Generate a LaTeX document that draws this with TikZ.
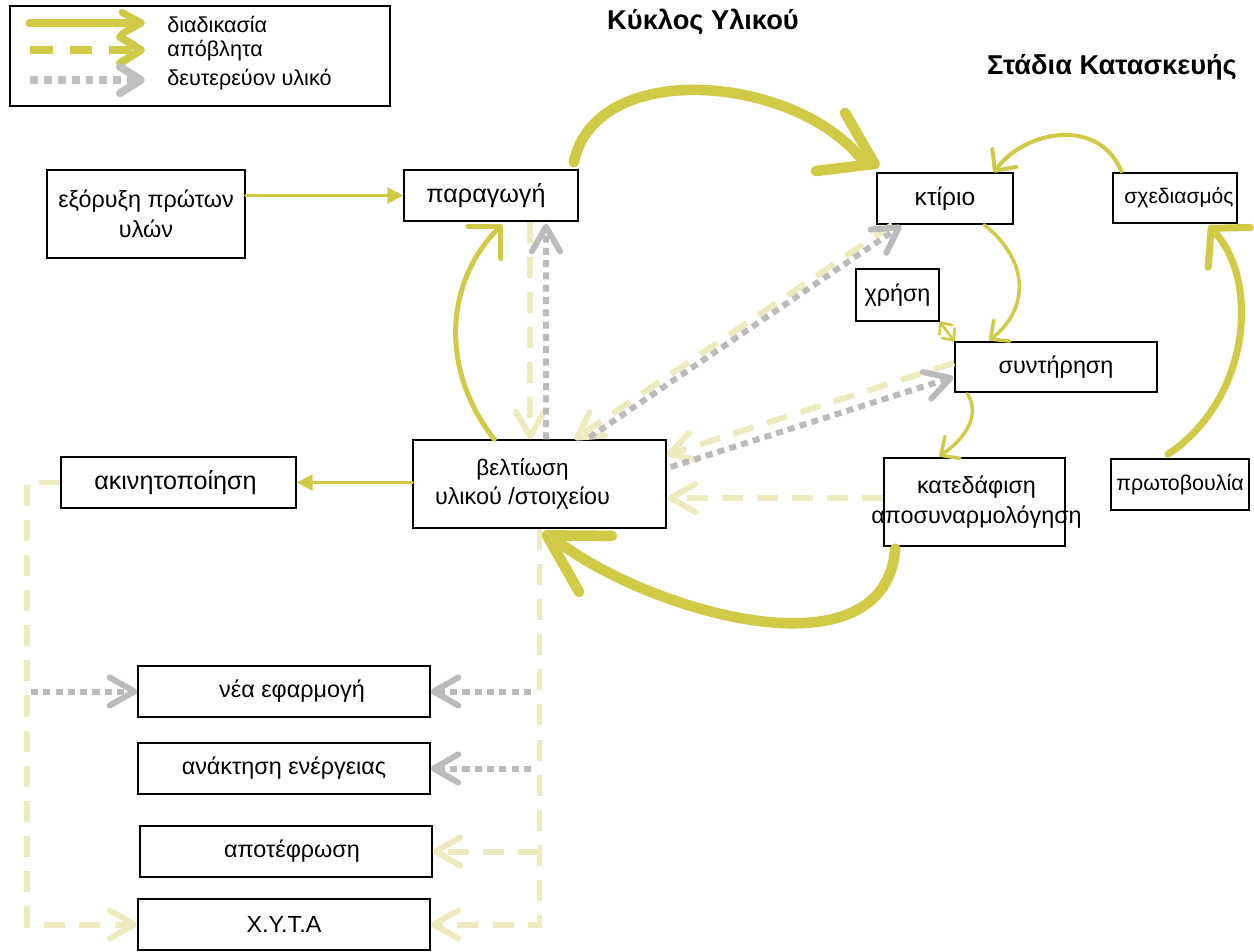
\documentclass[tikz,border=0pt]{standalone}
\usepackage{fontspec}
\setmainfont{Liberation Sans}
\usetikzlibrary{arrows.meta,calc}
\definecolor{procC}{RGB}{208,202,70}
\definecolor{wasteC}{RGB}{237,234,190}
\definecolor{grayC}{RGB}{187,187,187}
\definecolor{legGray}{RGB}{192,192,192}
\newcommand\gbox[7][0]{%
  \node[box, minimum width={(#5-#3)*0.02cm}, minimum height={(#6-#4)*0.02cm}] (#2) at ({(#3+#5)/2},{(#4+#6)/2}) {};
  \node[lbl] (#2-t) at ($(#2.center)+(#1,0)$) {#7};}
\newcommand\fs[1]{\fontsize{#1}{17}\selectfont}
\begin{document}
\begin{tikzpicture}[x=0.02cm,y=-0.02cm,
  box/.style={draw=black, line width=0.8pt, inner sep=0pt},
  lbl/.style={inner sep=0pt, align=center, font=\fontsize{13.3}{17}\selectfont},
  proc/.style={draw=procC, line cap=round},
  waste/.style={draw=wasteC, line width=3.4pt, dash pattern=on 12pt off 8pt},
  sec/.style={draw=grayC, line width=3.4pt, dash pattern=on 4pt off 3pt},
  wtip/.style={arrows={-Straight Barb[length=14pt,width=16pt,round]}},
  stip/.style={arrows={-Straight Barb[length=8pt,width=15pt,round]}},
  title/.style={inner sep=0pt, font=\bfseries\fontsize{15.5}{18}\selectfont},
  legtxt/.style={inner sep=0pt, anchor=west, font=\fontsize{12.3}{15}\selectfont}
]
\useasboundingbox (0,0) rectangle (1254,951);

% ---------- boxes ----------
\gbox{leg}{10}{6}{390}{106}{}
\gbox{exor}{47}{170}{245}{258}{εξόρυξη πρώτων\\υλών}
\gbox[-5]{parag}{404}{170}{578}{221}{\fs{14.3}παραγωγή}
\gbox{ktir}{877}{173}{1013}{224}{\fs{14}κτίριο}
\gbox[4]{sxed}{1113}{173}{1237}{223}{\fs{12}σχεδιασμός}
\gbox{xrisi}{856}{269}{939}{321}{χρήση}
\gbox{synt}{955}{342}{1157}{392}{συντήρηση}
\gbox[2]{kat}{884}{458}{1065}{546}{κατεδάφιση\\αποσυναρμολόγηση}
\gbox{prot}{1111}{459}{1249}{510}{\fs{12.2}πρωτοβουλία}
\gbox[-17]{belt}{413}{440}{666}{528}{\fontsize{12.8}{17}\selectfont βελτίωση\\υλικού /στοιχείου}
\gbox[-3]{akin}{61}{457}{296}{508}{\fs{14.3}ακινητοποίηση}
\gbox[8]{nea}{138}{666}{430}{717}{νέα εφαρμογή}
\gbox{anak}{138}{743}{430}{794}{ανάκτηση ενέργειας}
\gbox[6]{apot}{140}{826}{432}{877}{αποτέφρωση}
\gbox{xyta}{138}{899}{430}{950}{Χ.Υ.Τ.Α}

% ---------- titles ----------
\node[title] (t1) at (703,22) {Κύκλος Υλικού};
\node[title] (t2) at (1112,67) {Στάδια Κατασκευής};

% ---------- legend ----------
\coordinate (la1) at (29,23);  \coordinate (lb1) at (145,23);
\coordinate (la2) at (30,50);  \coordinate (lb2) at (145,50);
\coordinate (la3) at (30,80);  \coordinate (lb3) at (145,80);
\draw[procC, line width=4pt, line cap=round, -{Straight Barb[length=11pt,width=12pt,round]}] (la1) -- (lb1);
\draw[procC, line width=4.5pt, dash pattern=on 13pt off 9.5pt, -{Straight Barb[length=12pt,width=15pt,round]}] (la2) -- (lb2);
\draw[legGray, line width=4.5pt, dash pattern=on 4.5pt off 3.4pt, -{Straight Barb[length=12pt,width=15pt,round]}] (la3) -- (lb3);
\node[legtxt] (lt1) at (167,24) {διαδικασία};
\node[legtxt] (lt2) at (167,51) {απόβλητα};
\node[legtxt] (lt3) at (167,80) {δευτερεύον υλικό};

% ---------- waste (dashed) ----------
\draw[waste, wtip] ($(parag.south)+(39,0)$) -- ($(belt.north)+(-9.5,0)$);
\draw[waste, wtip] ($(ktir.south west)+(16,0)$) -- ($(belt.north)+(35,0)$);
\draw[waste, wtip] ($(synt.west)+(0,-4)$) -- ($(belt.east)+(0,-29)$);
\draw[waste, wtip] ($(kat.west)+(0,-4)$) -- ($(belt.east)+(1,14)$);
\draw[waste, wtip] (akin.west) -- ++(-33,0) |- (xyta.west);
\draw[waste, wtip] (belt.south) |- (xyta.east);
\draw[waste, wtip] (belt.south |- apot.east) -- (apot.east);

% ---------- secondary material (dotted) ----------
\draw[sec, wtip] ($(belt.north)+(6.5,0)$) -- ($(parag.south)+(55,2)$);
\draw[sec, wtip] ($(belt.north)+(50,-2)$) -- ($(ktir.south west)+(25,1)$);
\draw[sec, wtip] ($(belt.east)+(4,-17)$) -- ($(synt.west)+(-1,10)$);
\coordinate (gl) at (31,691.5);
\coordinate (gr1) at (531,691.5);
\coordinate (gr2) at (531,768.5);
\draw[sec, wtip] (gl) -- (nea.west);
\draw[sec, wtip] (gr1) -- (nea.east);
\draw[sec, wtip] (gr2) -- (anak.east);

% ---------- process (solid) ----------
\draw[proc, line width=1.7pt, -{Triangle[length=9pt,width=9pt]}] (exor.east |- parag.west) -- (parag.west);
\draw[proc, line width=1.7pt, -{Triangle[length=9pt,width=9pt]}] (belt.west |- akin.east) -- (akin.east);
\draw[proc, line width=6pt, -{Straight Barb[length=28pt,width=37pt,round]}]
  ($(parag.north east)+(-5,-7)$) .. controls +(22,-103) and +(-70,-82) .. ($(ktir.north west)+(-17,-16)$) -- ($(ktir.north west)+(3,-6)$);
\draw[proc, line width=6pt, -{Straight Barb[length=32pt,width=37pt,round]}]
  ($(kat.south west)+(12,2)$) .. controls +(-11,132) and +(90,68) .. ($(belt.south)+(20,14)$) -- ($(belt.south)+(3,4)$);
\draw[proc, line width=2.85pt, -{Straight Barb[length=13pt,width=26pt,round]}]
  ($(belt.north west)+(82,0)$) .. controls +(-55,-70) and +(-57,57) .. ($(parag.south)+(11,3)$);
\draw[proc, line width=2pt, stip]
  ($(ktir.south)+(39,0)$) .. controls +(46,36) and +(40,-31) .. ($(synt.north west)+(35,-1)$);
\draw[proc, line width=1.5pt, {Straight Barb[length=5pt,width=9pt,round]}-{Straight Barb[length=5pt,width=9pt,round]}]
  (xrisi.south east) -- (synt.north west);
\draw[proc, line width=2pt, stip]
  ($(synt.south west)+(13,1)$) .. controls +(14,22) and +(25,-17) .. ($(kat.north west)+(56,-1)$);
\draw[proc, line width=2.3pt, -{Straight Barb[length=9pt,width=17pt,round]}]
  ($(sxed.north west)+(9,-1)$) .. controls +(-22,-54) and +(32,-43) .. ($(ktir.north east)+(-20,0)$);
\draw[proc, line width=4pt, -{Straight Barb[length=15pt,width=33pt,round]}]
  ($(prot.north)+(-12,-4)$) .. controls +(82,-55) and +(52,55) .. ($(sxed.south east)+(-29,2)$);
\end{tikzpicture}
\end{document}
